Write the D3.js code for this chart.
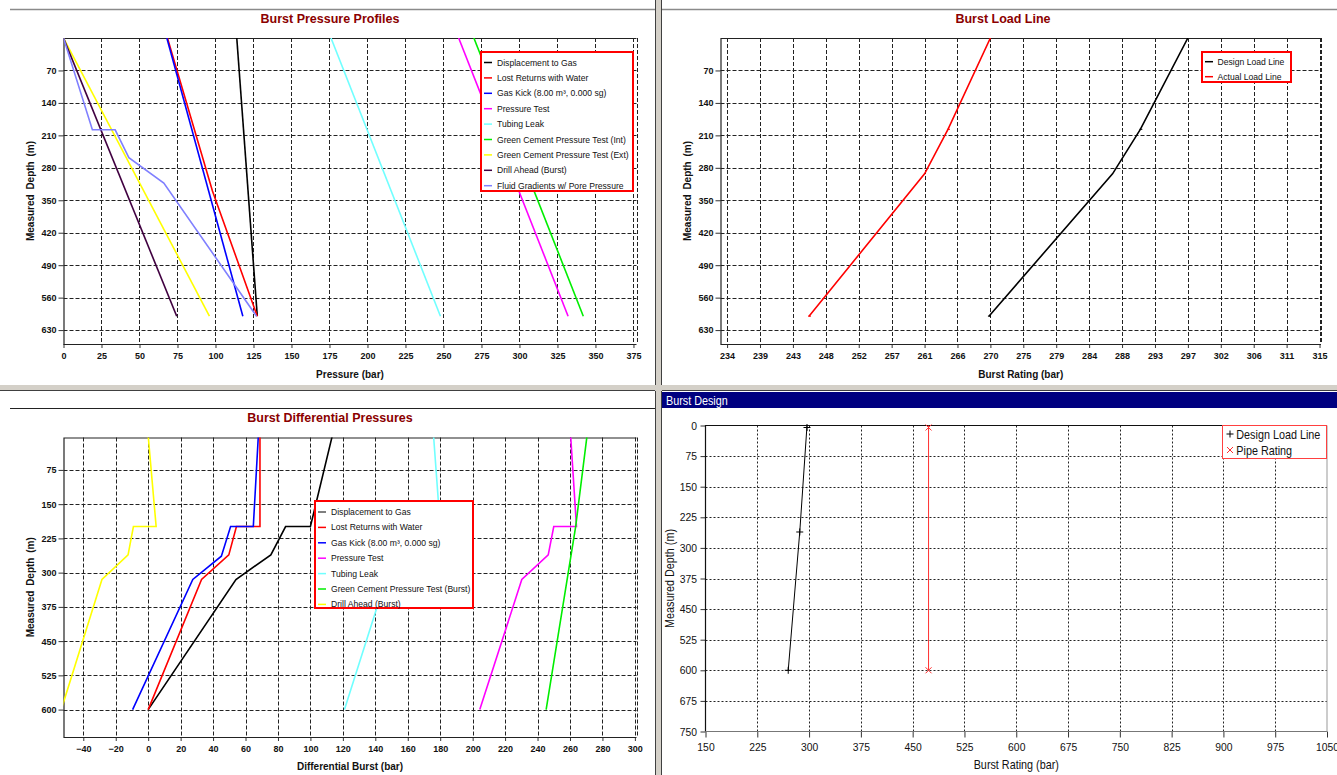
<!DOCTYPE html>
<html>
<head>
<meta charset="utf-8">
<script src="https://cdn.jsdelivr.net/npm/d3@7"></script>
<style>
body { margin: 0; background: #fff; }
svg { display: block; font-family: "Liberation Sans", Arial, sans-serif; }
</style>
</head>
<body>
<svg id="chart" width="1337" height="775"></svg>
<script>
////////// Data //////////
// Burst Pressure Profiles (depth m / pressure bar)
var p1Names = ['Displacement to Gas', 'Lost Returns with Water', 'Gas Kick (8.00 m\u00b3, 0.000 sg)',
	'Pressure  Test', 'Tubing Leak', 'Green Cement Pressure Test (Int)', 'Green Cement Pressure Test (Ext)',
	'Drill Ahead (Burst)', 'Fluid Gradients w/ Pore Pressure'];
var p1Depth = [
	[0, 600],
	[0, 330, 600],
	[0, 600],
	[0, 600],
	[0, 600],
	[0, 600],
	[0, 600],
	[0, 600],
	[0, 198, 198, 258, 313, 600]
];
var p1Pressure = [
	[114, 127.5],
	[68.4, 98, 127.5],
	[68, 118],
	[260, 332],
	[176, 248],
	[270, 342],
	[0, 96],
	[0, 74.5],
	[0, 19, 34, 43, 66, 127]
];
var p1XTicks = [0, 25, 50, 75, 100, 125, 150, 175, 200, 225, 250, 275, 300, 325, 350, 375];
var p1YTicks = [70, 140, 210, 280, 350, 420, 490, 560, 630];

// Burst Load Line
var p2Names = ['Design Load Line', 'Actual Load Line'];
var p2Depth = [[0, 197, 293, 600], [0, 197, 293, 600]];
var p2Rating = [[297, 290.5, 286.7, 269.8], [270, 264.2, 261, 245.2]];
var p2XTicks = [234, 238.5, 243, 247.5, 252, 256.5, 261, 265.5, 270, 274.5, 279, 283.5, 288, 292.5, 297, 301.5, 306, 310.5, 315];
var p2YTicks = [70, 140, 210, 280, 350, 420, 490, 560, 630];

// Burst Differential Pressures
var p3Names = ['Displacement to Gas', 'Lost Returns with Water', 'Gas Kick (8.00 m\u00b3, 0.000 sg)',
	'Pressure  Test', 'Tubing Leak', 'Green Cement Pressure Test (Burst)', 'Drill Ahead (Burst)'];
var p3Depth = [
	[0, 199, 199, 261, 315, 600],
	[0, 199, 199, 261, 315, 600],
	[0, 199, 199, 264, 315, 600],
	[0, 199, 199, 261, 315, 600],
	[0, 199, 199, 261, 315, 600],
	[0, 199, 600],
	[0, 199, 199, 261, 315, 600]
];
var p3Diff = [
	[113.5, 100, 84.7, 75.6, 54.1, 0],
	[68.9, 68.9, 54.4, 49.7, 32.9, 0],
	[67.9, 64.8, 50.8, 45.1, 27.5, -9.6],
	[260.4, 264, 250, 246.6, 230.3, 204.4],
	[175.9, 180, 166, 162.5, 146.5, 121],
	[270.5, 263.5, 245.3],
	[0, 4.9, -9.1, -12.4, -28.5, -53.6]
];
var p3XTicks = [-40, -20, 0, 20, 40, 60, 80, 100, 120, 140, 160, 180, 200, 220, 240, 260, 280, 300];
var p3YTicks = [75, 150, 225, 300, 375, 450, 525, 600];

// Burst Design
var p4Names = ['Design Load Line', 'Pipe Rating'];
var p4Depth = [[0, 261, 600], [0, 600]];
var p4Rating = [[297, 286.5, 269.8], [473, 473]];
var p4XTicks = [150, 225, 300, 375, 450, 525, 600, 675, 750, 825, 900, 975, 1050];
var p4YTicks = [0, 75, 150, 225, 300, 375, 450, 525, 600, 675, 750];

var colors9 = ['#000000', '#ff0000', '#0000ff', '#ff00ff', '#70ffff', '#00ee00', '#ffff00', '#400040', '#8080ff'];
var colors7 = ['#000000', '#ff0000', '#0000ff', '#ff00ff', '#70ffff', '#00ee00', '#ffff00'];

////////// Frame //////////
var svg = d3.select('#chart');
var squeeze = 0.9; // the Burst Design pane uses a slightly narrow face

svg.append('rect').attr('x', 0).attr('y', 0).attr('width', 1337).attr('height', 775).attr('fill', '#fff');
// top rules
svg.append('line').attr('x1', 10).attr('x2', 655).attr('y1', 9.5).attr('y2', 9.5).attr('stroke', '#8a8a8a').attr('stroke-width', 1.5);
svg.append('line').attr('x1', 662).attr('x2', 1337).attr('y1', 9.5).attr('y2', 9.5).attr('stroke', '#8a8a8a').attr('stroke-width', 1.5);
svg.append('line').attr('x1', 10).attr('x2', 655).attr('y1', 408.5).attr('y2', 408.5).attr('stroke', '#222').attr('stroke-width', 1);
// splitter bars
svg.append('rect').attr('x', 655).attr('y', 0).attr('width', 7).attr('height', 775).attr('fill', '#d4d0c8');
svg.append('rect').attr('x', 0).attr('y', 385).attr('width', 1337).attr('height', 6).attr('fill', '#d4d0c8');
svg.append('line').attr('x1', 655.5).attr('x2', 655.5).attr('y1', 0).attr('y2', 385).attr('stroke', '#404040');
svg.append('line').attr('x1', 655.5).attr('x2', 655.5).attr('y1', 391).attr('y2', 775).attr('stroke', '#404040');
svg.append('line').attr('x1', 661.5).attr('x2', 661.5).attr('y1', 0).attr('y2', 385).attr('stroke', '#404040');
svg.append('line').attr('x1', 661.5).attr('x2', 661.5).attr('y1', 391).attr('y2', 775).attr('stroke', '#404040');
svg.append('line').attr('x1', 0).attr('x2', 655).attr('y1', 390.5).attr('y2', 390.5).attr('stroke', '#404040');
svg.append('line').attr('x1', 662).attr('x2', 1337).attr('y1', 390.5).attr('y2', 390.5).attr('stroke', '#404040');

function zip(depths, vals) {
	return depths.map(function(d, i) { return [d, vals[i]]; });
}

var clipCount = 0;

/* Panels 1-3 share the same look: bold ticks, dashed grid, red legend box */
function profilePanel(o) {
	var g = svg.append('g');
	var x = d3.scaleLinear().domain(o.xDomain).range([o.x0, o.x1]);
	var y = d3.scaleLinear().domain(o.yDomain).range([o.y0, o.y1]);

	g.append('text')
		.attr('x', o.titleX).attr('y', o.titleY)
		.attr('text-anchor', 'middle')
		.attr('font-size', 12.5).attr('font-weight', 'bold')
		.attr('fill', '#8b0000')
		.text(o.title);

	// grid
	var vLines = o.xTicks.filter(function(t) { return x(t) > o.x0 + 1; }).concat([o.xDomain[1]]);
	g.append('g').selectAll('line')
		.data(vLines).enter().append('line')
		.attr('x1', d => Math.round(x(d)) + 0.5).attr('x2', d => Math.round(x(d)) + 0.5)
		.attr('y1', o.y0).attr('y2', o.y1)
		.attr('stroke', '#222').attr('stroke-dasharray', '4,2');
	g.append('g').selectAll('line')
		.data(o.yTicks).enter().append('line')
		.attr('x1', o.x0).attr('x2', o.x1)
		.attr('y1', d => Math.round(y(d)) + 0.5).attr('y2', d => Math.round(y(d)) + 0.5)
		.attr('stroke', '#222').attr('stroke-dasharray', '4,2');

	// axes
	var xAxis = g.append('g')
		.attr('transform', 'translate(0,' + o.y1 + ')')
		.call(d3.axisBottom(x).tickValues(o.xTicks).tickFormat(o.xFmt).tickSize(4).tickPadding(5).tickSizeOuter(0));
	var yAxis = g.append('g')
		.attr('transform', 'translate(' + o.x0 + ',0)')
		.call(d3.axisLeft(y).tickValues(o.yTicks).tickFormat(d3.format('d')).tickSize(5).tickPadding(2).tickSizeOuter(0));
	[xAxis, yAxis].forEach(function(a) {
		a.select('.domain').remove();
		a.selectAll('line').attr('stroke', '#333');
		a.selectAll('text').attr('font-size', 9).attr('font-weight', 'bold').attr('fill', '#111')
			.attr('font-family', '"Liberation Sans", Arial, sans-serif');
	});

	// frame: solid top, left and bottom
	g.append('path')
		.attr('d', 'M' + o.x1 + ',' + (o.y0 + 0.5) + 'H' + (o.x0 + 0.5) + 'V' + (o.y1 + 0.5) + 'H' + o.x1)
		.attr('fill', 'none').attr('stroke', '#222').attr('stroke-width', 1.2);

	g.append('text')
		.attr('x', (o.x0 + o.x1) / 2).attr('y', o.xLabelY)
		.attr('text-anchor', 'middle')
		.attr('font-size', 10).attr('font-weight', 'bold').attr('fill', '#111')
		.text(o.xLabel);
	g.append('text')
		.attr('transform', 'translate(' + o.yLabelX + ',' + ((o.y0 + o.y1) / 2) + ') rotate(-90)')
		.attr('text-anchor', 'middle')
		.attr('font-size', 10).attr('font-weight', 'bold').attr('fill', '#111')
		.attr('word-spacing', 2)
		.text('Measured Depth (m)');

	// series
	var clipId = 'clip' + (clipCount++);
	svg.append('clipPath').attr('id', clipId)
		.append('rect').attr('x', o.x0).attr('y', o.y0).attr('width', o.x1 - o.x0).attr('height', o.y1 - o.y0);
	var line = d3.line().x(d => x(d[1])).y(d => y(d[0]));
	var series = o.names.map(function(n, i) { return zip(o.depths[i], o.values[i]); });
	g.append('g').attr('clip-path', 'url(#' + clipId + ')')
		.selectAll('path').data(series).enter().append('path')
		.attr('d', line)
		.attr('fill', 'none')
		.attr('stroke', (d, i) => o.colors[i])
		.attr('stroke-width', 1.6);

	if (o.ticksAt) {
		g.append('g').selectAll('line')
			.data(o.ticksAt).enter().append('line')
			.attr('x1', d => x(d[1]) - 1).attr('x2', d => x(d[1]) + 2)
			.attr('y1', d => y(d[0])).attr('y2', d => y(d[0]))
			.attr('stroke', d => d[2]).attr('stroke-width', 1);
	}

	// legend
	var L = o.legend;
	var legendColors = o.legendColors || o.colors;
	var lg = g.append('g');
	lg.append('rect')
		.attr('x', L.x).attr('y', L.y).attr('width', L.w).attr('height', L.h)
		.attr('fill', '#fff').attr('stroke', '#ff0000').attr('stroke-width', 2);
	var rows = lg.selectAll('g.row').data(o.names).enter().append('g')
		.attr('transform', (d, i) => 'translate(' + L.x + ',' + (L.y + L.first + i * L.step) + ')');
	rows.append('line')
		.attr('x1', 3).attr('x2', 11).attr('y1', 0).attr('y2', 0)
		.attr('stroke', (d, i) => legendColors[i]).attr('stroke-width', 1.5);
	rows.append('text')
		.attr('x', L.textX).attr('y', 3)
		.attr('font-size', 8.6).attr('fill', '#111')
		.attr('font-family', '"Liberation Sans", Arial, sans-serif')
		.text(d => d);
}

profilePanel({
	title: 'Burst Pressure Profiles', titleX: 330, titleY: 23,
	x0: 63.5, x1: 636.5, y0: 38, y1: 344,
	xDomain: [0, 377], yDomain: [0, 660],
	xTicks: p1XTicks, yTicks: p1YTicks, xFmt: d3.format('d'),
	xLabel: 'Pressure (bar)', xLabelY: 378, yLabelX: 34,
	names: p1Names, depths: p1Depth, values: p1Pressure, colors: colors9,
	legend: { x: 481, y: 52, w: 152, h: 139, first: 10.5, step: 15.4, textX: 16 }
});

profilePanel({
	title: 'Burst Load Line', titleX: 1003, titleY: 23,
	x0: 720.5, x1: 1321, y0: 38, y1: 344,
	xDomain: [233.1, 315.2], yDomain: [0, 660],
	xTicks: p2XTicks, yTicks: p2YTicks, xFmt: d => Math.round(d),
	xLabel: 'Burst Rating (bar)', xLabelY: 378, yLabelX: 691,
	names: p2Names, depths: p2Depth, values: p2Rating, colors: ['#000000', '#ff0000'],
	ticksAt: [[p2Depth[0][1], p2Rating[0][1], '#000'], [p2Depth[1][1], p2Rating[1][1], '#f00'],
		[p2Depth[0][3], p2Rating[0][3], '#000'], [p2Depth[1][3], p2Rating[1][3], '#f00']],
	legend: { x: 1202, y: 52, w: 89, h: 30, first: 9.7, step: 15, textX: 15.5 }
});

profilePanel({
	title: 'Burst Differential Pressures', titleX: 330, titleY: 422,
	x0: 63.5, x1: 636.5, y0: 437.5, y1: 737,
	xDomain: [-52.2, 301], yDomain: [4, 660],
	xTicks: p3XTicks, yTicks: p3YTicks, xFmt: d3.format('d'),
	xLabel: 'Differential Burst (bar)', xLabelY: 770, yLabelX: 34,
	names: p3Names, depths: p3Depth, values: p3Diff, colors: colors7,
	legendColors: ['#555555'].concat(colors7.slice(1)),
	legend: { x: 315, y: 501, w: 158, h: 107, first: 11, step: 15.4, textX: 16 }
});

////////// Burst Design //////////
function squeezed(sel, x, y) {
	return sel.attr('transform', 'translate(' + x + ',' + y + ') scale(' + squeeze + ',1)');
}

(function() {
	var x0 = 705.5, x1 = 1327, y0 = 425.5, y1 = 731.5;
	var g = svg.append('g');
	var x = d3.scaleLinear().domain([150, 1050]).range([x0, x1]);
	var y = d3.scaleLinear().domain([0, 750]).range([y0, y1]);

	g.append('rect').attr('x', 662).attr('y', 392).attr('width', 675).attr('height', 16).attr('fill', '#000080');
	squeezed(g.append('text'), 666, 404.5)
		.attr('font-size', 12).attr('fill', '#fff')
		.text('Burst Design');

	g.append('g').selectAll('line')
		.data(p4XTicks.slice(1, -1)).enter().append('line')
		.attr('x1', d => Math.round(x(d)) + 0.5).attr('x2', d => Math.round(x(d)) + 0.5)
		.attr('y1', y0).attr('y2', y1)
		.attr('stroke', '#222').attr('stroke-dasharray', '2,2');
	g.append('g').selectAll('line')
		.data(p4YTicks.slice(1, -1)).enter().append('line')
		.attr('x1', x0).attr('x2', x1)
		.attr('y1', d => Math.round(y(d)) + 0.5).attr('y2', d => Math.round(y(d)) + 0.5)
		.attr('stroke', '#222').attr('stroke-dasharray', '2,2');

	var xAxis = g.append('g')
		.attr('transform', 'translate(0,' + y1 + ')')
		.call(d3.axisBottom(x).tickValues(p4XTicks).tickFormat(d3.format('d')).tickSize(6).tickPadding(5).tickSizeOuter(0));
	var yAxis = g.append('g')
		.attr('transform', 'translate(' + x0 + ',0)')
		.call(d3.axisLeft(y).tickValues(p4YTicks).tickFormat(d3.format('d')).tickSize(5).tickPadding(4.5).tickSizeOuter(0));
	[xAxis, yAxis].forEach(function(a) {
		a.select('.domain').remove();
		a.selectAll('line').attr('stroke', '#333');
		a.selectAll('text').attr('font-size', 11.5).attr('fill', '#111')
			.attr('transform', 'scale(' + squeeze + ',1)');
	});

	g.append('path')
		.attr('d', 'M' + x1 + ',' + y0 + 'H' + x0 + 'V' + y1)
		.attr('fill', 'none').attr('stroke', '#111').attr('stroke-width', 1.2);
	g.append('line').attr('x1', x0).attr('x2', x1).attr('y1', y1).attr('y2', y1).attr('stroke', '#777').attr('stroke-width', 1.2);
	g.append('line').attr('x1', x1).attr('x2', x1).attr('y1', y0).attr('y2', y1).attr('stroke', '#999').attr('stroke-width', 1);

	squeezed(g.append('text'), (x0 + x1) / 2, 769)
		.attr('text-anchor', 'middle').attr('font-size', 12).attr('fill', '#111')
		.text('Burst Rating (bar)');
	g.append('text')
		.attr('transform', 'translate(' + 674 + ',' + ((y0 + y1) / 2) + ') rotate(-90) scale(' + squeeze + ',1)')
		.attr('text-anchor', 'middle').attr('font-size', 12).attr('fill', '#111')
		.text('Measured Depth (m)');

	var line = d3.line().x(d => x(d[1])).y(d => y(d[0]));
	var p4Colors = ['#000000', '#ff3030'];
	var markers = ['M-3.5,0H3.5M0,-3.5V3.5', 'M-3,-3L3,3M-3,3L3,-3'];
	p4Names.forEach(function(n, i) {
		var pts = zip(p4Depth[i], p4Rating[i]);
		g.append('path').attr('d', line(pts)).attr('fill', 'none').attr('stroke', p4Colors[i]).attr('stroke-width', 1);
		g.append('g').selectAll('path').data(pts).enter().append('path')
			.attr('transform', d => 'translate(' + x(d[1]) + ',' + (y(d[0]) + (d[0] === 0 ? 2 : 0)) + ')')
			.attr('d', markers[i]).attr('stroke', p4Colors[i]).attr('stroke-width', 1);
	});

	// legend
	var lg = g.append('g');
	lg.append('rect').attr('x', 1222.5).attr('y', 425.5).attr('width', 104).attr('height', 33)
		.attr('fill', '#fff').attr('stroke', '#ff4040').attr('stroke-width', 1);
	var rows = lg.selectAll('g.row').data(p4Names).enter().append('g')
		.attr('transform', (d, i) => 'translate(1230,' + (434 + i * 16) + ')');
	rows.append('path').attr('d', (d, i) => markers[i]).attr('stroke', (d, i) => p4Colors[i]).attr('stroke-width', 1);
	rows.append('text').attr('x', 7).attr('y', 4.5)
		.attr('transform', 'scale(' + squeeze + ',1)')
		.attr('font-size', 12).attr('fill', '#111')
		.text(d => d);
})();
</script>
</body>
</html>
